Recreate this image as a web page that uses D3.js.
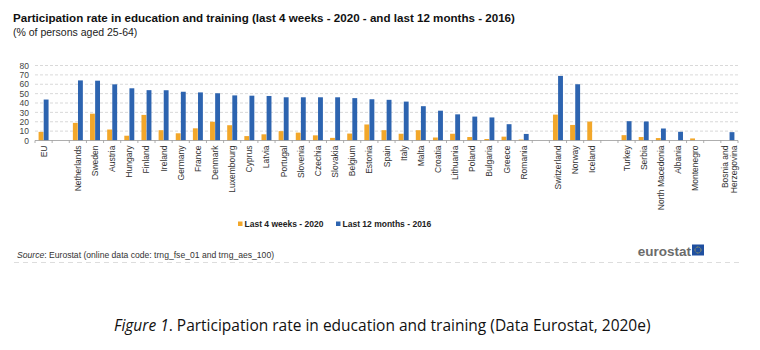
<!DOCTYPE html>
<html>
<head>
<meta charset="utf-8">
<script src="https://cdn.jsdelivr.net/npm/d3@7"></script>
<style>
  body { margin: 0; background: #fff; }
  svg { display: block; }
</style>
</head>
<body>
<div id="chart"></div>
<script>
// slots; "" entries are empty gaps between country groups
const countries = ["EU", "", "Netherlands", "Sweden", "Austria", "Hungary", "Finland", "Ireland", "Germany", "France",
  "Denmark", "Luxembourg", "Cyprus", "Latvia", "Portugal", "Slovenia", "Czechia", "Slovakia", "Belgium", "Estonia",
  "Spain", "Italy", "Malta", "Croatia", "Lithuania", "Poland", "Bulgaria", "Greece", "Romania", "",
  "Switzerland", "Norway", "Iceland", "", "Turkey", "Serbia", "North Macedonia", "Albania", "Montenegro", "",
  "Bosnia and Herzegovina"];
const last4weeks2020 = [9.2, null, 18.8, 28.6, 11.7, 5.1, 27.3, 11.0, 7.7, 13.0,
  20.0, 16.3, 4.7, 6.6, 10.0, 8.4, 5.5, 2.8, 7.4, 17.1,
  11.0, 7.2, 11.0, 3.2, 7.2, 3.7, 1.6, 4.1, 1.0, null,
  27.6, 16.6, 20.2, null, 5.7, 3.7, 2.6, null, 2.2, null,
  null];
const last12months2016 = [43.7, null, 64.1, 63.8, 59.9, 55.7, 53.7, 53.6, 52.0, 51.3,
  50.4, 48.1, 47.8, 47.5, 46.1, 46.1, 46.1, 46.1, 45.2, 44.0,
  43.4, 41.5, 36.6, 31.8, 27.9, 25.5, 24.6, 17.4, 7.0, null,
  68.9, 60.0, null, null, 20.6, 20.3, 12.8, 9.3, null, null,
  8.9];
const yTicks = [0, 10, 20, 30, 40, 50, 60, 70, 80];
const seriesNames = ["Last 4 weeks - 2020", "Last 12 months - 2016"];
const seriesColors = ["#f2a72a", "#2d64b0"];

const W = 760, H = 350;
const svg = d3.select("#chart").append("svg").attr("width", W).attr("height", H);
const font = "Liberation Sans, Arial, sans-serif";

svg.append("text").attr("x", 13).attr("y", 22)
  .attr("font-family", font).attr("font-size", 11.6).attr("font-weight", "bold").attr("fill", "#111")
  .text("Participation rate in education and training (last 4 weeks - 2020 - and last 12 months - 2016)");
svg.append("text").attr("x", 13).attr("y", 35.5)
  .attr("font-family", font).attr("font-size", 10.5).attr("fill", "#222")
  .text("(% of persons aged 25-64)");

const margin = { left: 35, right: 22, top: 65, bottom: 210 };
const x = d3.scaleBand().domain(d3.range(countries.length)).range([margin.left, W - margin.right]);
const y = d3.scaleLinear().domain([0, 80]).range([140.5, 65.5]);
const inner = d3.scaleBand().domain([0, 1]).range([0, x.bandwidth()]).paddingInner(0.05).paddingOuter(0.7);

const g = svg.append("g");

// grid
g.selectAll("line.grid").data(yTicks.slice(1)).enter().append("line")
  .attr("x1", margin.left).attr("x2", W - margin.right)
  .attr("y1", d => y(d)).attr("y2", d => y(d))
  .attr("stroke", "#cfcfcf").attr("stroke-width", 0.8).attr("stroke-dasharray", "3,2");

const yAxis = g.append("g").attr("transform", `translate(${margin.left},0)`)
  .call(d3.axisLeft(y).tickValues(yTicks).tickSize(0).tickPadding(6));
yAxis.select(".domain").remove();
yAxis.selectAll("text").attr("font-family", font).attr("font-size", 8.5).attr("fill", "#444");

// bars
const series = [last4weeks2020, last12months2016];
series.forEach((vals, s) => {
  g.selectAll(`rect.s${s}`).data(vals.map((v, i) => ({ v, i })).filter(d => d.v != null))
    .enter().append("rect")
    .attr("x", d => x(d.i) + inner(s)).attr("width", inner.bandwidth())
    .attr("y", d => y(d.v)).attr("height", d => y(0) - y(d.v))
    .attr("fill", seriesColors[s]);
});

// x axis
g.append("line").attr("x1", margin.left).attr("x2", W - margin.right)
  .attr("y1", y(0)).attr("y2", y(0)).attr("stroke", "#999").attr("stroke-width", 0.8);
g.selectAll("line.tick").data(d3.range(countries.length + 1)).enter().append("line")
  .attr("x1", i => margin.left + i * x.step()).attr("x2", i => margin.left + i * x.step())
  .attr("y1", y(0)).attr("y2", y(0) + 2.5).attr("stroke", "#999").attr("stroke-width", 0.8);

g.selectAll("text.cat").data(countries.map((c, i) => ({ c, i })).filter(d => d.c))
  .enter().append("text")
  .attr("font-family", font).attr("font-size", 8.5).attr("fill", "#333")
  .attr("text-anchor", "end")
  .attr("transform", d => `translate(${x(d.i) + x.bandwidth() / 2 + 3},${y(0) + 5}) rotate(-90)`)
  .each(function (d) {
    const t = d3.select(this);
    if (d.c === "Bosnia and Herzegovina") {
      t.append("tspan").attr("x", 0).attr("dy", -4.5).text("Bosnia and");
      t.append("tspan").attr("x", 0).attr("dy", 9.5).text("Herzegovina");
    } else t.text(d.c);
  });

// legend
const legX = [238, 336];
seriesNames.forEach((n, s) => {
  svg.append("rect").attr("x", legX[s]).attr("y", 221.5).attr("width", 4.5).attr("height", 4.5).attr("fill", seriesColors[s]);
  svg.append("text").attr("x", legX[s] + 6.5).attr("y", 226.5)
    .attr("font-family", font).attr("font-size", 8.5).attr("font-weight", "bold").attr("fill", "#222").text(n);
});

// source
const src = svg.append("text").attr("x", 17).attr("y", 258)
  .attr("font-family", font).attr("font-size", 8.6).attr("fill", "#333");
src.append("tspan").attr("font-style", "italic").text("Source");
src.append("tspan").text(": Eurostat (online data code: trng_fse_01  and trng_aes_100)");

svg.append("line").attr("x1", 14).attr("x2", 742).attr("y1", 262.5).attr("y2", 262.5)
  .attr("stroke", "#ddd").attr("stroke-width", 1).attr("stroke-dasharray", "5,4");

// logo
svg.append("text").attr("x", 691).attr("y", 256).attr("text-anchor", "end")
  .attr("font-family", font).attr("font-size", 13.5).attr("font-weight", "bold").attr("fill", "#6b6b6b").text("eurostat");
svg.append("rect").attr("x", 692).attr("y", 244.5).attr("width", 12).attr("height", 11).attr("fill", "#1f4fa0");
svg.append("circle").attr("cx", 698).attr("cy", 250).attr("r", 3).attr("fill", "none")
  .attr("stroke", "#e8c730").attr("stroke-width", 0.8).attr("stroke-dasharray", "0.8,0.8");

// caption
const cap = svg.append("text").attr("x", 114).attr("y", 331)
  .attr("font-family", "Open Sans, Noto Sans, sans-serif").attr("font-size", 15.5).attr("fill", "#111");
cap.append("tspan").attr("font-style", "italic").text("Figure 1");
cap.append("tspan").text(". Participation rate in education and training (Data Eurostat, 2020e)");
</script>
</body>
</html>
